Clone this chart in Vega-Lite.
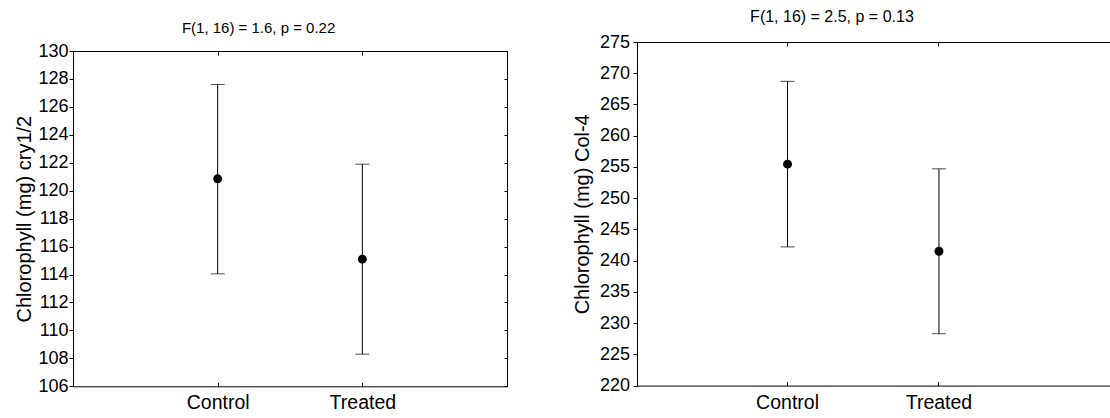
{
  "$schema": "https://vega.github.io/schema/vega-lite/v6.json",
  "padding": {"left": 14, "top": 9, "right": 0, "bottom": 0},
  "background": "white",
  "spacing": 64,
  "config": {
    "font": "Liberation Sans",
    "view": {"stroke": null},
    "axis": {
      "grid": false,
      "domainColor": "#000000",
      "tickColor": "#000000",
      "labelColor": "#000000",
      "titleColor": "#000000",
      "titleFontWeight": "normal",
      "labelFont": "Liberation Sans",
      "titleFont": "Liberation Sans"
    },
    "title": {"font": "Liberation Sans", "fontWeight": "normal", "color": "#000000"}
  },
  "datasets": {
    "cry": [
      {"group": "Control", "mean": 120.85, "lower": 114.05, "upper": 127.6},
      {"group": "Treated", "mean": 115.1, "lower": 108.3, "upper": 121.9}
    ],
    "col": [
      {"group": "Control", "mean": 255.45, "lower": 242.2, "upper": 268.7},
      {"group": "Treated", "mean": 241.5, "lower": 228.3, "upper": 254.7}
    ]
  },
  "hconcat": [
    {
      "width": 434,
      "height": 344.3,
      "data": {"name": "cry"},
      "title": {"text": "F(1, 16) = 1.6, p = 0.22", "fontSize": 15, "offset": 6.2, "dx": -31.4},
      "resolve": {"axis": {"x": "independent", "y": "independent"}},
      "layer": [
        {
          "mark": {"type": "rule", "color": "black", "strokeWidth": 1},
          "encoding": {
            "x": {"field": "group", "type": "nominal", "sort": ["Control", "Treated"], "scale": {"type": "point", "padding": 1},
                  "axis": {"orient": "bottom", "title": null, "labelAngle": 0, "labelFontSize": 19.5, "tickSize": -4, "labelPadding": 11.5}},
            "y": {"field": "lower", "type": "quantitative", "scale": {"domain": [106, 130], "nice": false, "zero": false, "range": [344.3, 9]},
                  "axis": {"orient": "left", "title": "Chlorophyll (mg) cry1/2", "titleFontSize": 20, "titlePadding": 3.7,
                           "values": [106, 108, 110, 112, 114, 116, 118, 120, 122, 124, 126, 128, 130],
                           "labelFontSize": 18, "tickSize": 4, "labelPadding": 1}},
            "y2": {"field": "upper"}
          }
        },
        {
          "mark": {"type": "tick", "color": "black", "thickness": 1, "size": 14, "orient": "horizontal"},
          "encoding": {
            "x": {"field": "group", "type": "nominal", "sort": ["Control", "Treated"],
                  "axis": {"orient": "top", "title": null, "labels": false, "tickSize": -4, "offset": -9}},
            "y": {"field": "upper", "type": "quantitative",
                  "axis": {"orient": "right", "title": null, "labels": false, "tickSize": -3,
                           "values": [106, 108, 110, 112, 114, 116, 118, 120, 122, 124, 126, 128, 130]}}
          }
        },
        {
          "mark": {"type": "tick", "color": "black", "thickness": 1, "size": 14, "orient": "horizontal"},
          "encoding": {
            "x": {"field": "group", "type": "nominal", "sort": ["Control", "Treated"], "axis": null},
            "y": {"field": "lower", "type": "quantitative", "axis": null}
          }
        },
        {
          "mark": {"type": "point", "filled": true, "color": "black", "opacity": 1, "size": 80},
          "encoding": {
            "x": {"field": "group", "type": "nominal", "sort": ["Control", "Treated"], "axis": null},
            "y": {"field": "mean", "type": "quantitative", "axis": null}
          }
        }
      ]
    },
    {
      "width": 473.3,
      "height": 343.6,
      "data": {"name": "col"},
      "title": {"text": "F(1, 16) = 2.5, p = 0.13", "fontSize": 16, "offset": 7.7, "dx": -41.7},
      "resolve": {"axis": {"x": "independent", "y": "independent"}},
      "layer": [
        {
          "mark": {"type": "rule", "color": "black", "strokeWidth": 1},
          "encoding": {
            "x": {"field": "group", "type": "nominal", "sort": ["Control", "Treated"],
                  "scale": {"type": "band", "paddingInner": 0, "paddingOuter": 0.563, "align": 0.439},
                  "axis": {"orient": "bottom", "title": null, "labelAngle": 0, "labelFontSize": 19.5, "tickSize": -4, "labelPadding": 11.5}},
            "y": {"field": "lower", "type": "quantitative", "scale": {"domain": [220, 275], "nice": false, "zero": false},
                  "axis": {"orient": "left", "title": "Chlorophyll (mg) Col-4", "titleFontSize": 20, "titlePadding": 7,
                           "values": [220, 225, 230, 235, 240, 245, 250, 255, 260, 265, 270, 275],
                           "labelFontSize": 18, "tickSize": 4, "labelPadding": 3.4}},
            "y2": {"field": "upper"}
          }
        },
        {
          "mark": {"type": "tick", "color": "black", "thickness": 1, "size": 14, "orient": "horizontal"},
          "encoding": {
            "x": {"field": "group", "type": "nominal", "sort": ["Control", "Treated"],
                  "axis": {"orient": "top", "title": null, "labels": false, "tickSize": -4}},
            "y": {"field": "upper", "type": "quantitative", "axis": null}
          }
        },
        {
          "mark": {"type": "tick", "color": "black", "thickness": 1, "size": 14, "orient": "horizontal"},
          "encoding": {
            "x": {"field": "group", "type": "nominal", "sort": ["Control", "Treated"], "axis": null},
            "y": {"field": "lower", "type": "quantitative", "axis": null}
          }
        },
        {
          "mark": {"type": "point", "filled": true, "color": "black", "opacity": 1, "size": 80},
          "encoding": {
            "x": {"field": "group", "type": "nominal", "sort": ["Control", "Treated"], "axis": null},
            "y": {"field": "mean", "type": "quantitative", "axis": null}
          }
        }
      ]
    }
  ]
}
